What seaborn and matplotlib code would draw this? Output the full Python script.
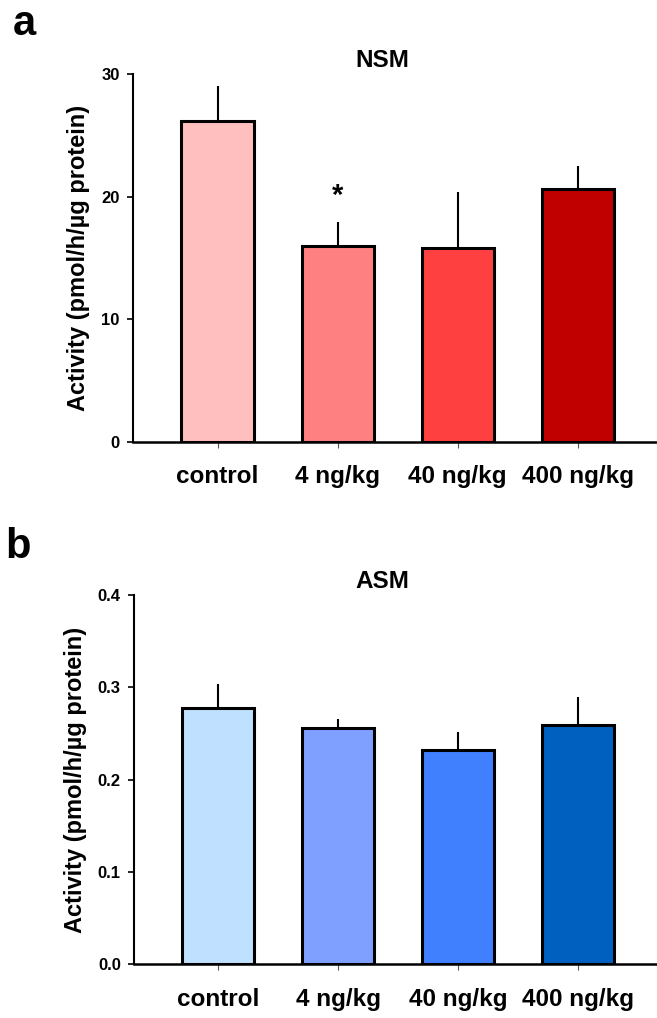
import numpy as np
import pandas as pd
import matplotlib
matplotlib.use("Agg")
import matplotlib.pyplot as plt
import seaborn as sns

doses = ['control', '4 ng/kg', '40 ng/kg', '400 ng/kg']

nsm_mean = [26.2, 16.0, 15.8, 20.6]
nsm_sem = [2.8, 1.95, 4.6, 1.9]
nsm_colors = ['#FFBFBF', '#FF8080', '#FF4040', '#C00000']

asm_mean = [0.277, 0.256, 0.232, 0.259]
asm_sem = [0.027, 0.010, 0.019, 0.030]
asm_colors = ['#BFE0FF', '#80A0FF', '#4080FF', '#0060C0']

sns.set_style('ticks')
plt.rcParams['font.family'] = ['Liberation Sans', 'DejaVu Sans']
plt.rcParams['font.weight'] = 'bold'
for key in ['text.color', 'axes.labelcolor', 'xtick.color', 'ytick.color', 'axes.edgecolor']:
    plt.rcParams[key] = 'black'

fig = plt.figure(figsize=(6.57, 10.18), dpi=100)
ax_a = fig.add_axes([0.2024, 0.5661, 0.7976, 0.3612])
ax_b = fig.add_axes([0.2040, 0.0530, 0.7960, 0.3625])


def draw_panel(ax, means, sems, colors, title, ylim, yticks, fmt):
    df = pd.DataFrame({'dose': doses, 'activity': means})
    sns.barplot(data=df, x='dose', y='activity', hue='dose', palette=colors,
                legend=False, width=0.6, edgecolor='black', linewidth=2.2,
                saturation=1, ax=ax, zorder=3)
    x = np.arange(len(doses))
    ax.errorbar(x, means, yerr=[np.zeros(len(sems)), sems], fmt='none',
                ecolor='black', elinewidth=1.5, capsize=0, zorder=2)
    ax.set_xlim(-0.704, 3.66)
    ax.set_ylim(*ylim)
    ax.set_yticks(yticks)
    ax.set_yticklabels([fmt.format(t) for t in yticks], fontsize=12, fontweight='bold')
    ax.set_xticks(x)
    ax.set_xticklabels(doses, fontsize=17.5, fontweight='bold')
    ax.tick_params(axis='y', length=4.5, width=1.2, pad=5)
    ax.tick_params(axis='x', length=4, width=0.8, pad=13, color='#555555')
    ax.set_xlabel('')
    ax.set_ylabel('Activity (pmol/h/µg protein)', fontsize=17, fontweight='bold', labelpad=8)
    ax.set_title(title, fontsize=17.5, fontweight='bold', x=0.475, pad=5)
    sns.despine(ax=ax)
    ax.spines['left'].set_linewidth(1.5)
    ax.spines['bottom'].set_linewidth(1.8)


draw_panel(ax_a, nsm_mean, nsm_sem, nsm_colors, 'NSM', (0, 30), [0, 10, 20, 30], '{:.0f}')
draw_panel(ax_b, asm_mean, asm_sem, asm_colors, 'ASM', (0, 0.4), [0.0, 0.1, 0.2, 0.3, 0.4], '{:.1f}')

# significance mark over 4 ng/kg
ax_a.text(1, 19.4, '*', ha='center', va='baseline', fontsize=21, fontweight='bold')

fig.text(0.019, 0.966, 'a', fontsize=30, fontweight='bold')
fig.text(0.008, 0.452, 'b', fontsize=30, fontweight='bold')

fig.savefig('out.png', dpi=100)
